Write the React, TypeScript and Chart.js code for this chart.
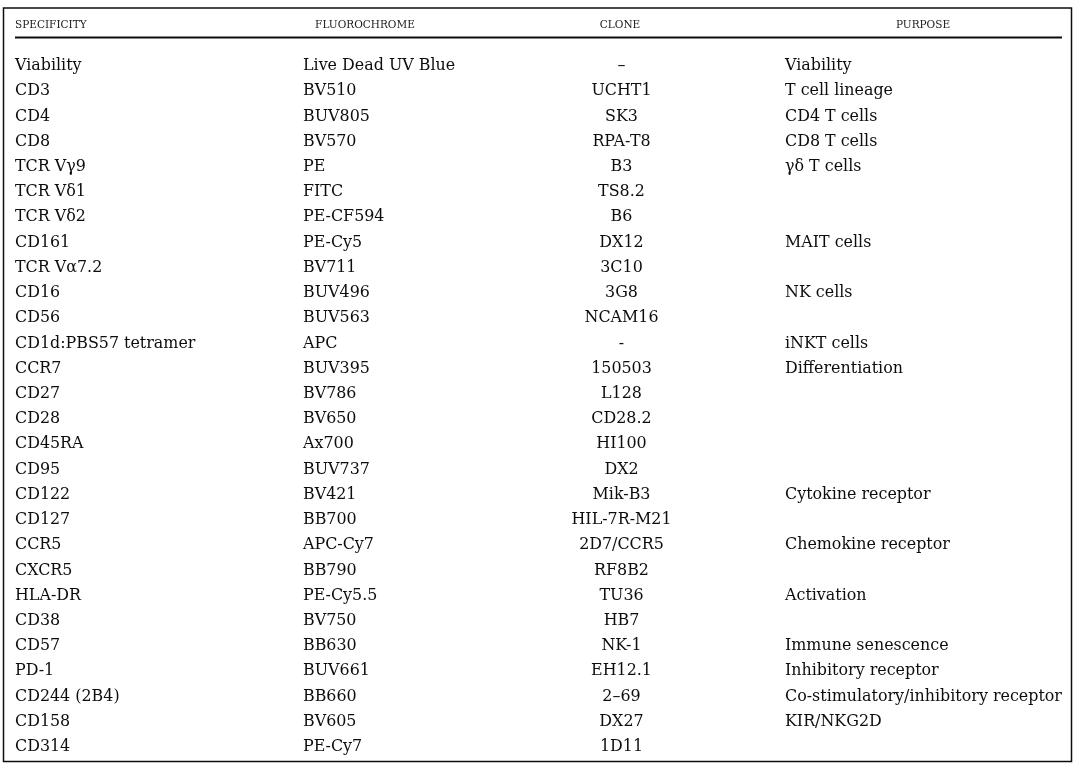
import React, { useEffect, useRef } from "react";
import { Chart, registerables } from "chart.js";

Chart.register(...registerables);

const headers = ["SPECIFICITY", "FLUOROCHROME", "CLONE", "PURPOSE"];

const specificity = [
  "Viability", "CD3", "CD4", "CD8", "TCR Vγ9", "TCR Vδ1", "TCR Vδ2", "CD161",
  "TCR Vα7.2", "CD16", "CD56", "CD1d:PBS57 tetramer", "CCR7", "CD27", "CD28",
  "CD45RA", "CD95", "CD122", "CD127", "CCR5", "CXCR5", "HLA-DR", "CD38", "CD57",
  "PD-1", "CD244 (2B4)", "CD158", "CD314",
];

const fluorochrome = [
  "Live Dead UV Blue", "BV510", "BUV805", "BV570", "PE", "FITC", "PE-CF594", "PE-Cy5",
  "BV711", "BUV496", "BUV563", "APC", "BUV395", "BV786", "BV650",
  "Ax700", "BUV737", "BV421", "BB700", "APC-Cy7", "BB790", "PE-Cy5.5", "BV750", "BB630",
  "BUV661", "BB660", "BV605", "PE-Cy7",
];

const clone = [
  "–", "UCHT1", "SK3", "RPA-T8", "B3", "TS8.2", "B6", "DX12",
  "3C10", "3G8", "NCAM16", "-", "150503", "L128", "CD28.2",
  "HI100", "DX2", "Mik-B3", "HIL-7R-M21", "2D7/CCR5", "RF8B2", "TU36", "HB7", "NK-1",
  "EH12.1", "2–69", "DX27", "1D11",
];

const purpose = [
  "Viability", "T cell lineage", "CD4 T cells", "CD8 T cells", "γδ T cells", "", "", "MAIT cells",
  "", "NK cells", "", "iNKT cells", "Differentiation", "", "",
  "", "", "Cytokine receptor", "", "Chemokine receptor", "", "Activation", "", "Immune senescence",
  "Inhibitory receptor", "Co-stimulatory/inhibitory receptor", "KIR/NKG2D", "",
];

// layout (x-scale units = pixels)
const COL_X = [15, 303, 621.5, 785];
const COL_ALIGN: CanvasTextAlign[] = ["left", "left", "center", "left"];
const HEAD_X = [15, 365, 620, 923];
const HEAD_ALIGN: CanvasTextAlign[] = ["left", "center", "center", "center"];
const FONT = "'DejaVu Serif', serif";
const INK = "#0d0d0d";

const tablePlugin = {
  id: "tablePlugin",
  beforeDraw(chart: any) {
    const { ctx, width, height } = chart;
    ctx.save();
    ctx.fillStyle = "#ffffff";
    ctx.fillRect(0, 0, width, height);
    ctx.restore();
  },
  afterDraw(chart: any) {
    const { ctx } = chart;
    const x = chart.scales.x;
    const y = chart.scales.y;
    ctx.save();
    // outer frame
    ctx.strokeStyle = INK;
    ctx.lineWidth = 1.5;
    ctx.strokeRect(x.getPixelForValue(3.5), 8, x.getPixelForValue(1071.5) - x.getPixelForValue(3.5), 753.5);
    // header
    ctx.fillStyle = "#1a1a1a";
    ctx.font = `10.5px ${FONT}`;
    ctx.textBaseline = "middle";
    headers.forEach((h, i) => {
      ctx.textAlign = HEAD_ALIGN[i];
      ctx.fillText(h, x.getPixelForValue(HEAD_X[i]), 25);
    });
    // header rule
    ctx.lineWidth = 2;
    ctx.beginPath();
    ctx.moveTo(x.getPixelForValue(15), 37.5);
    ctx.lineTo(x.getPixelForValue(1062), 37.5);
    ctx.stroke();
    // body rows
    ctx.fillStyle = INK;
    ctx.font = `15.9px ${FONT}`;
    const cols = [specificity, fluorochrome, clone, purpose];
    specificity.forEach((_, r) => {
      const py = y.getPixelForValue(r);
      cols.forEach((col, i) => {
        if (!col[r]) return;
        ctx.textAlign = COL_ALIGN[i];
        ctx.fillText(col[r], x.getPixelForValue(COL_X[i]), py);
      });
    });
    ctx.restore();
  },
};

export default function App() {
  const ref = useRef<HTMLCanvasElement | null>(null);
  useEffect(() => {
    if (!ref.current) return;
    const chart = new Chart(ref.current, {
      type: "scatter",
      data: { datasets: [{ data: [] }] },
      options: {
        responsive: false,
        animation: false,
        events: [],
        layout: { padding: { top: 66, bottom: 23, left: 0, right: 0 } },
        plugins: { legend: { display: false }, tooltip: { enabled: false } },
        scales: {
          x: { type: "linear", min: 0, max: 1080, display: false },
          y: { type: "category", labels: specificity, display: false, offset: false },
        },
      },
      plugins: [tablePlugin],
    } as any);
    return () => chart.destroy();
  }, []);
  return (
    <div style={{ position: "absolute", left: 0, top: 0, width: 1080, height: 770, background: "#fff" }}>
      <canvas ref={ref} width={1080} height={770} />
    </div>
  );
}
